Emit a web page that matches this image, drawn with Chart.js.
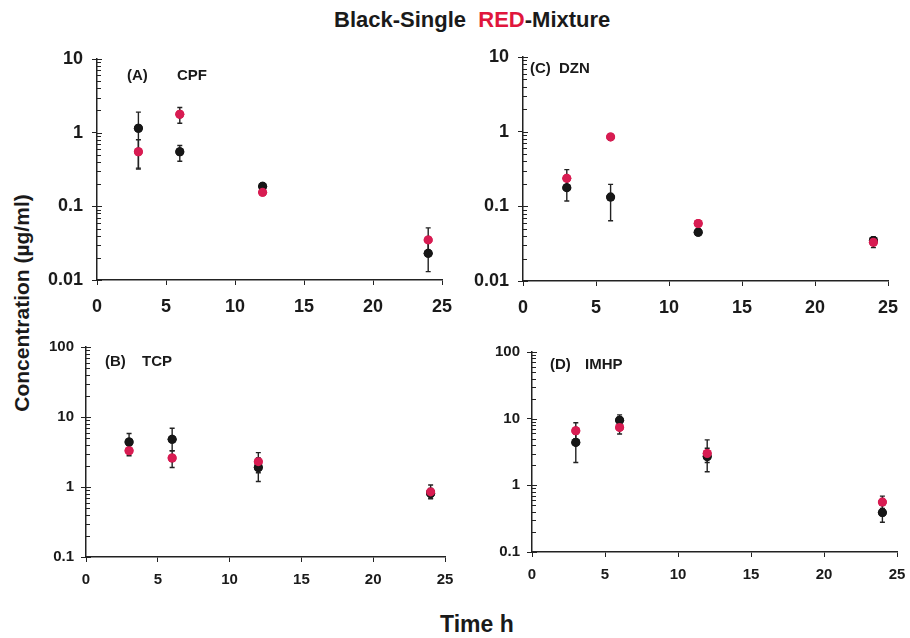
<!DOCTYPE html>
<html>
<head>
<meta charset="utf-8">
<script src="https://cdn.jsdelivr.net/npm/chart.js@4.4.1/dist/chart.umd.min.js"></script>
<style>
  body { margin: 0; background: #fff; width: 910px; height: 638px; position: relative; overflow: hidden;
         font-family: "Liberation Sans", Arial, sans-serif; font-weight: bold; color: #1a1a1a; }
  canvas { position: absolute; }
  #title { position: absolute; left: 334px; top: 7px; font-size: 22px; white-space: nowrap; }
  #title .red { color: #e0163c; }
  #ytitle { position: absolute; left: 22px; top: 303px; font-size: 21px; white-space: nowrap;
            transform: translate(-50%, -50%) rotate(-90deg); }
  #xtitle { position: absolute; left: 440px; top: 611px; font-size: 23px; white-space: nowrap; }
</style>
</head>
<body>
<div id="title">Black-Single &nbsp;<span class="red">RED</span>-Mixture</div>
<div id="ytitle">Concentration (µg/ml)</div>
<div id="xtitle">Time h</div>
<canvas id="cA"></canvas>
<canvas id="cC"></canvas>
<canvas id="cB"></canvas>
<canvas id="cD"></canvas>
<script>
// sampling times (h)
const times = [3, 6, 12, 24];
const xTicks = [0, 5, 10, 15, 20, 25];

// (A) CPF
const cpfSingle = [1.15, 0.55, 0.187, 0.023];
const cpfSingleLow = [0.32, 0.41, 0.17, 0.013];
const cpfSingleHigh = [1.9, 0.67, 0.2, 0.035];
const cpfMix = [0.55, 1.78, 0.155, 0.035];
const cpfMixLow = [0.33, 1.34, 0.145, 0.025];
const cpfMixHigh = [0.8, 2.2, 0.17, 0.051];

// (C) DZN
const dznSingle = [0.178, 0.133, 0.045, 0.035];
const dznSingleLow = [0.118, 0.064, 0.042, 0.03];
const dznSingleHigh = [0.22, 0.197, 0.05, 0.039];
const dznMix = [0.237, 0.85, 0.059, 0.033];
const dznMixLow = [0.19, 0.78, 0.055, 0.028];
const dznMixHigh = [0.31, 0.93, 0.064, 0.037];

// (B) TCP
const tcpSingle = [4.4, 4.8, 1.9, 0.81];
const tcpSingleLow = [3.4, 3.3, 1.2, 0.7];
const tcpSingleHigh = [5.8, 6.9, 2.6, 0.95];
const tcpMix = [3.3, 2.6, 2.3, 0.85];
const tcpMixLow = [2.8, 1.9, 1.6, 0.68];
const tcpMixHigh = [3.9, 3.3, 3.1, 1.07];

// (D) IMHP
const imhpSingle = [4.4, 9.5, 2.7, 0.39];
const imhpSingleLow = [2.2, 8.0, 1.6, 0.28];
const imhpSingleHigh = [6.0, 11.4, 3.6, 0.5];
const imhpMix = [6.6, 7.4, 3.0, 0.56];
const imhpMixLow = [5.0, 5.9, 2.2, 0.45];
const imhpMixHigh = [8.7, 9.0, 4.8, 0.69];

const topTicks = [0.01, 0.1, 1, 10];
const bottomTicks = [0.1, 1, 10, 100];

const BLACK = "#161616";
const RED = "#d81c52";
const FONT = "'Liberation Sans', Arial, sans-serif";

// error bars drawn through the chart's own scales
const errorBars = {
  id: "errorBars",
  afterDatasetsDraw(chart) {
    const { ctx, scales: { x, y } } = chart;
    ctx.save();
    ctx.strokeStyle = "#222";
    ctx.lineWidth = 1.4;
    chart.data.datasets.forEach((ds) => {
      ds.data.forEach((p, i) => {
        const px = x.getPixelForValue(p.x);
        const top = y.getPixelForValue(ds.high[i]);
        const bot = y.getPixelForValue(ds.low[i]);
        ctx.beginPath();
        ctx.moveTo(px, top); ctx.lineTo(px, bot);
        ctx.moveTo(px - 2.5, top); ctx.lineTo(px + 2.5, top);
        ctx.moveTo(px - 2.5, bot); ctx.lineTo(px + 2.5, bot);
        ctx.stroke();
      });
    });
    // redraw points on top of the bars
    chart.data.datasets.forEach((ds, di) => {
      chart.getDatasetMeta(di).data.forEach((pt) => {
        ctx.beginPath();
        ctx.fillStyle = ds.backgroundColor;
        ctx.arc(pt.x, pt.y, 4.5, 0, Math.PI * 2);
        ctx.fill();
      });
    });
    ctx.restore();
  }
};

// minor log ticks inside the y axis, panel caption
const axisExtras = {
  id: "axisExtras",
  afterDraw(chart, args, opts) {
    const { ctx, chartArea, scales: { y } } = chart;
    ctx.save();
    ctx.strokeStyle = "#222";
    ctx.lineWidth = 1;
    const e0 = Math.round(Math.log10(y.min));
    const e1 = Math.round(Math.log10(y.max));
    for (let e = e0; e <= e1; e++) {
      for (let k = 1; k <= 9; k++) {
        const v = k * Math.pow(10, e);
        if (v < y.min * 0.999 || v > y.max * 1.001) continue;
        const py = Math.round(y.getPixelForValue(v)) + 0.5;
        ctx.beginPath();
        ctx.moveTo(chartArea.left, py);
        ctx.lineTo(chartArea.left + (k === 1 ? 5 : 4), py);
        ctx.stroke();
      }
    }
    ctx.fillStyle = "#1a1a1a";
    ctx.font = "bold " + opts.size + "px " + FONT;
    ctx.textBaseline = "middle";
    ctx.fillText(opts.tag, chartArea.left + opts.dx, chartArea.top + opts.dy);
    ctx.fillText(opts.name, chartArea.left + opts.dx2, chartArea.top + opts.dy);
    ctx.restore();
  }
};

function makePanel(id, box, yTicks, sizes, caption, single, sLow, sHigh, mix, mLow, mHigh) {
  const padTop = 20, padRight = 28, yW = 72, xH = 40;
  const cv = document.getElementById(id);
  const w = box.r - box.l + yW + padRight;
  const h = box.b - box.t + padTop + xH;
  cv.style.left = (box.l - yW) + "px";
  cv.style.top = (box.t - padTop) + "px";
  cv.style.width = w + "px";
  cv.style.height = h + "px";
  cv.width = w; cv.height = h;

  return new Chart(cv.getContext("2d"), {
    type: "scatter",
    data: {
      datasets: [
        {
          label: "Single",
          data: times.map((t, i) => ({ x: t, y: single[i] })),
          low: sLow, high: sHigh,
          backgroundColor: BLACK, borderColor: BLACK,
          pointRadius: 4.5, borderWidth: 0,
        },
        {
          label: "Mixture",
          data: times.map((t, i) => ({ x: t, y: mix[i] })),
          low: mLow, high: mHigh,
          backgroundColor: RED, borderColor: RED,
          pointRadius: 4.5, borderWidth: 0,
        },
      ],
    },
    options: {
      responsive: false,
      animation: false,
      layout: { padding: { top: padTop, right: padRight, left: 0, bottom: 0 } },
      plugins: {
        legend: { display: false },
        tooltip: { enabled: false },
        axisExtras: caption,
      },
      scales: {
        x: {
          type: "linear",
          min: 0, max: 25,
          afterBuildTicks: (s) => { s.ticks = xTicks.map((v) => ({ value: v })); },
          afterFit: (s) => { s.height = xH; s.paddingLeft = 0; s.paddingRight = 0; },
          grid: { display: true, drawOnChartArea: false, drawTicks: true, tickLength: 5, color: "#222" },
          border: { display: true, color: "#222", width: 1.5 },
          ticks: { color: "#1a1a1a", padding: sizes.xPad, font: { family: FONT, weight: "bold", size: sizes.tick } },
        },
        y: {
          type: "logarithmic",
          min: yTicks[0], max: yTicks[yTicks.length - 1],
          afterBuildTicks: (s) => { s.ticks = yTicks.map((v) => ({ value: v })); },
          afterFit: (s) => { s.width = yW; s.paddingTop = 0; s.paddingBottom = 0; },
          grid: { display: true, drawOnChartArea: false, drawTicks: true, tickLength: 5, color: "#222" },
          border: { display: true, color: "#222", width: 1.5 },
          ticks: {
            color: "#1a1a1a", padding: sizes.yPad,
            font: { family: FONT, weight: "bold", size: sizes.tick },
            callback: (v) => String(v),
          },
        },
      },
    },
    plugins: [errorBars, axisExtras],
  });
}

const bigSizes = { tick: 18, xPad: 11, yPad: 9 };
const smallSizes = { tick: 15, xPad: 9, yPad: 7 };

makePanel("cA", { l: 97, t: 59, r: 442, b: 280 }, topTicks, bigSizes,
  { tag: "(A)", name: "CPF", dx: 30, dx2: 80, dy: 17, size: 15 },
  cpfSingle, cpfSingleLow, cpfSingleHigh, cpfMix, cpfMixLow, cpfMixHigh);

makePanel("cC", { l: 523, t: 57, r: 888, b: 281 }, topTicks, bigSizes,
  { tag: "(C)", name: "DZN", dx: 7, dx2: 36, dy: 12, size: 15 },
  dznSingle, dznSingleLow, dznSingleHigh, dznMix, dznMixLow, dznMixHigh);

makePanel("cB", { l: 86, t: 347, r: 445, b: 557 }, bottomTicks, smallSizes,
  { tag: "(B)", name: "TCP", dx: 19, dx2: 56, dy: 15, size: 15 },
  tcpSingle, tcpSingleLow, tcpSingleHigh, tcpMix, tcpMixLow, tcpMixHigh);

makePanel("cD", { l: 532, t: 352, r: 897, b: 552 }, bottomTicks, smallSizes,
  { tag: "(D)", name: "IMHP", dx: 18, dx2: 53, dy: 13, size: 15 },
  imhpSingle, imhpSingleLow, imhpSingleHigh, imhpMix, imhpMixLow, imhpMixHigh);
</script>
</body>
</html>
